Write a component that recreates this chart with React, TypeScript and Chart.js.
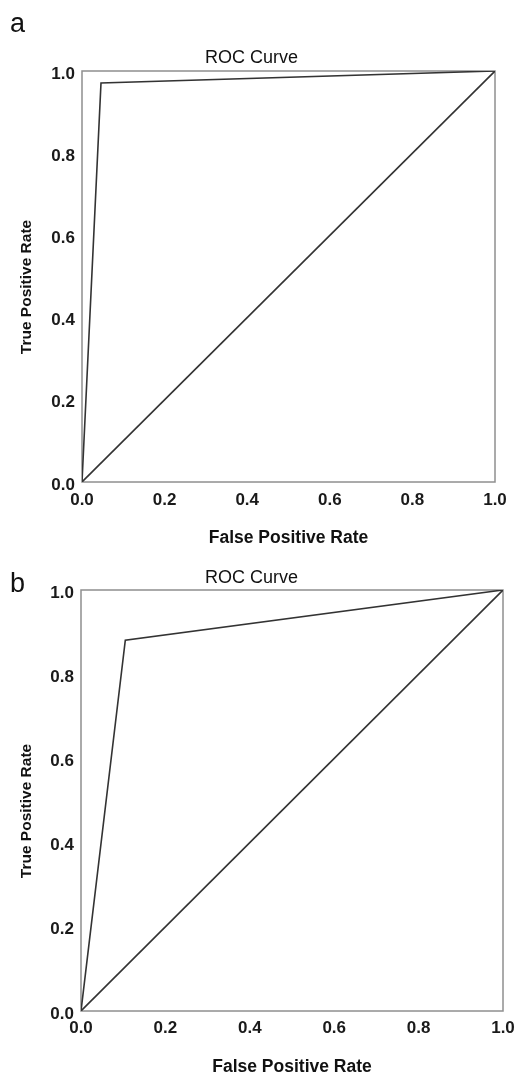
import React, { useEffect, useRef } from "react";
import { Chart, registerables } from "chart.js";

Chart.register(...registerables);

// ---- data ----
const axisTicks = [0, 0.2, 0.4, 0.6, 0.8, 1.0];
const panelLabels = ["a", "b"];
const chartTitle = "ROC Curve";
const xAxisTitle = "False Positive Rate";
const yAxisTitle = "True Positive Rate";
const rocFprA = [0, 0.046, 1];
const rocTprA = [0, 0.971, 1];
const rocFprB = [0, 0.105, 1];
const rocTprB = [0, 0.881, 1];
const refFpr = [0, 1];
const refTpr = [0, 1];

const FONT = "'Liberation Sans', Arial, Helvetica, sans-serif";
const LINE = "#333333";
const FRAME = "#8f8f8f";

type Layout = {
  top: number;
  height: number;
  plotLeft: number;
  plotRight: number;
  plotTop: number;
  plotBottom: number;
  titleBaseline: number;
  letterBaseline: number;
  yTitleX: number;
  yTitleY: number;
  xTickPad: number;
  xTitlePad: number;
};

const layouts: Layout[] = [
  {
    top: 0, height: 550, plotLeft: 82, plotRight: 495, plotTop: 71, plotBottom: 482,
    titleBaseline: 63, letterBaseline: 32, yTitleX: 31, yTitleY: 287, xTickPad: 8, xTitlePad: 1,
  },
  {
    top: 545, height: 530, plotLeft: 81, plotRight: 503, plotTop: 45, plotBottom: 466,
    titleBaseline: 38, letterBaseline: 47, yTitleX: 31, yTitleY: 266, xTickPad: 7, xTitlePad: -3,
  },
];

const toPts = (xs: number[], ys: number[]) => xs.map((x, i) => ({ x, y: ys[i] }));

function RocPanel({ idx, fpr, tpr }: { idx: number; fpr: number[]; tpr: number[] }) {
  const ref = useRef<HTMLCanvasElement | null>(null);
  const L = layouts[idx];
  useEffect(() => {
    if (!ref.current) return;
    const decor = {
      id: "decor" + idx,
      beforeDatasetsDraw(chart: any) {
        const { ctx, chartArea: a } = chart;
        ctx.save();
        ctx.strokeStyle = FRAME;
        ctx.lineWidth = 1.5;
        ctx.strokeRect(a.left, a.top, a.right - a.left, a.bottom - a.top);
        ctx.restore();
      },
      afterDraw(chart: any) {
        const { ctx } = chart;
        ctx.save();
        ctx.fillStyle = "#111";
        ctx.font = `18px ${FONT}`;
        ctx.textAlign = "center";
        ctx.textBaseline = "alphabetic";
        ctx.fillText(chartTitle, 251.5, L.titleBaseline);
        ctx.font = `27px ${FONT}`;
        ctx.textAlign = "left";
        ctx.fillText(panelLabels[idx], 10, L.letterBaseline);
        ctx.translate(L.yTitleX, L.yTitleY);
        ctx.rotate(-Math.PI / 2);
        ctx.font = `bold 15.5px ${FONT}`;
        ctx.textAlign = "center";
        ctx.fillText(yAxisTitle, 0, 0);
        ctx.restore();
      },
    };
    const tickFont = { family: FONT, size: 17, weight: "bold" as const };
    const chart = new Chart(ref.current, {
      type: "line",
      data: {
        datasets: [
          {
            data: toPts(fpr, tpr),
            borderColor: LINE,
            borderWidth: 1.6,
            pointRadius: 0,
            tension: 0,
            fill: false,
          },
          {
            data: toPts(refFpr, refTpr),
            borderColor: LINE,
            borderWidth: 1.6,
            pointRadius: 0,
            tension: 0,
            fill: false,
          },
        ],
      },
      options: {
        animation: false,
        responsive: false,
        maintainAspectRatio: false,
        devicePixelRatio: 1,
        layout: {
          padding: { top: L.plotTop, right: 516 - L.plotRight, left: 0, bottom: 0 },
        },
        plugins: {
          legend: { display: false },
          tooltip: { enabled: false },
          title: { display: false },
        },
        scales: {
          x: {
            type: "linear",
            min: 0,
            max: 1,
            grid: { display: false, drawTicks: false },
            border: { display: false },
            afterBuildTicks: (s: any) => {
              s.ticks = axisTicks.map((v) => ({ value: v }));
            },
            afterFit: (s: any) => {
              s.height = L.height - L.plotBottom;
              s.paddingLeft = 0;
              s.paddingRight = 0;
            },
            ticks: {
              autoSkip: false,
              maxRotation: 0,
              padding: L.xTickPad,
              color: "#1a1a1a",
              font: tickFont,
              callback: (v: any) => Number(v).toFixed(1),
            },
            title: {
              display: true,
              text: xAxisTitle,
              color: "#111",
              font: { family: FONT, size: 17.5, weight: "bold" },
              padding: { top: L.xTitlePad, bottom: L.xTitlePad },
            },
          },
          y: {
            type: "linear",
            min: 0,
            max: 1,
            grid: { display: false, drawTicks: false },
            border: { display: false },
            afterBuildTicks: (s: any) => {
              s.ticks = axisTicks.map((v) => ({ value: v }));
            },
            afterFit: (s: any) => {
              s.width = L.plotLeft;
              s.paddingTop = 0;
              s.paddingBottom = 0;
            },
            ticks: {
              autoSkip: false,
              padding: 7,
              labelOffset: 3,
              color: "#1a1a1a",
              font: tickFont,
              callback: (v: any) => Number(v).toFixed(1),
            },
          },
        },
      },
      plugins: [decor],
    } as any);
    return () => chart.destroy();
  }, []);
  return (
    <canvas
      ref={ref}
      width={516}
      height={L.height}
      style={{ position: "absolute", left: 0, top: L.top, width: 516, height: L.height, display: "block" }}
    />
  );
}

export default function App() {
  return (
    <div style={{ position: "absolute", left: 0, top: 0, width: 516, height: 1075, background: "#fff", overflow: "hidden" }}>
      <RocPanel idx={0} fpr={rocFprA} tpr={rocTprA} />
      <RocPanel idx={1} fpr={rocFprB} tpr={rocTprB} />
    </div>
  );
}
